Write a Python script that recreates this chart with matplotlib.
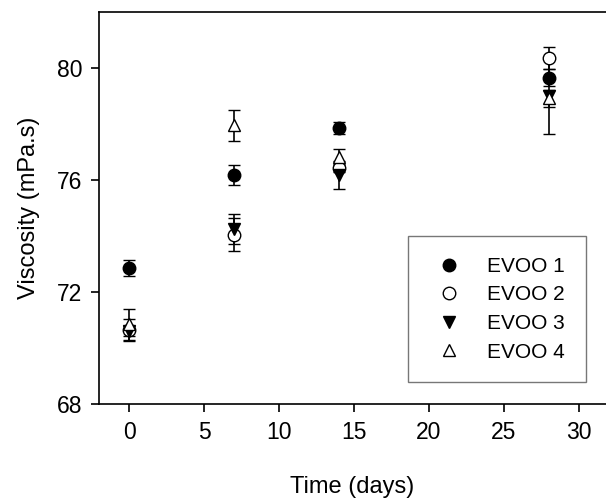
import matplotlib
matplotlib.use("Agg")
import matplotlib.pyplot as plt

plt.rcParams['font.family'] = ['Liberation Sans', 'DejaVu Sans']

days = [0, 7, 14, 28]
evoo1 = [72.86, 76.18, 77.86, 79.66]
evoo1_err = [0.30, 0.35, 0.22, 0.30]
evoo2 = [70.65, 74.05, 76.42, 80.35]
evoo2_err = [0.40, 0.60, 0.15, 0.40]
evoo3 = [70.62, 74.25, 76.18, 79.0]
evoo3_err = [0.18, 0.55, 0.50, 1.35]
evoo4 = [70.85, 77.95, 76.82, 78.92]
evoo4_err = [0.55, 0.55, 0.28, 0.30]

labels = ["EVOO 1", "EVOO 2", "EVOO 3", "EVOO 4"]
xticks = [0, 5, 10, 15, 20, 25, 30]
yticks = [68, 72, 76, 80]

fig = plt.figure(figsize=(6.06, 5.00), dpi=100)
ax = fig.add_axes([99/606, 96/500, (606-99)/606, (404-12)/500])

series = [
    (evoo1, evoo1_err, 'o', 'black'),
    (evoo2, evoo2_err, 'o', 'white'),
    (evoo3, evoo3_err, 'v', 'black'),
    (evoo4, evoo4_err, '^', 'white'),
]
for (vals, errs, m, fc), lab in zip(series, labels):
    ax.errorbar(days, vals, yerr=errs, fmt=m, color='black', mfc=fc, mec='black',
                ms=9, mew=1.0, ecolor='black', elinewidth=1.2, capsize=4.5,
                capthick=1.2, label=lab, zorder=3)

ax.set_xlim(-2, 31.8)
ax.set_ylim(68, 82)
ax.set_xticks(xticks)
ax.set_yticks(yticks)
ax.tick_params(direction='out', length=6, width=1.2, labelsize=16.5, pad=6)
for s in ['left', 'bottom', 'top']:
    ax.spines[s].set_linewidth(1.2)
ax.spines['right'].set_visible(False)

ax.set_xlabel("Time (days)", fontsize=17, labelpad=23)
ax.set_ylabel("Viscosity (mPa.s)", fontsize=17, labelpad=12)

handles, labs = ax.get_legend_handles_labels()
handles = [h[0] for h in handles]
leg = fig.legend(handles, labs, loc='upper left', bbox_to_anchor=(408/606, 1-236/500),
                 fontsize=15, frameon=True, fancybox=False, borderaxespad=0,
                 handletextpad=0.85, labelspacing=0.46, borderpad=1.0,
                 handlelength=1.95)
leg.get_frame().set_edgecolor('#555555')
leg.get_frame().set_linewidth(1.0)

fig.savefig("out.png", dpi=100)
